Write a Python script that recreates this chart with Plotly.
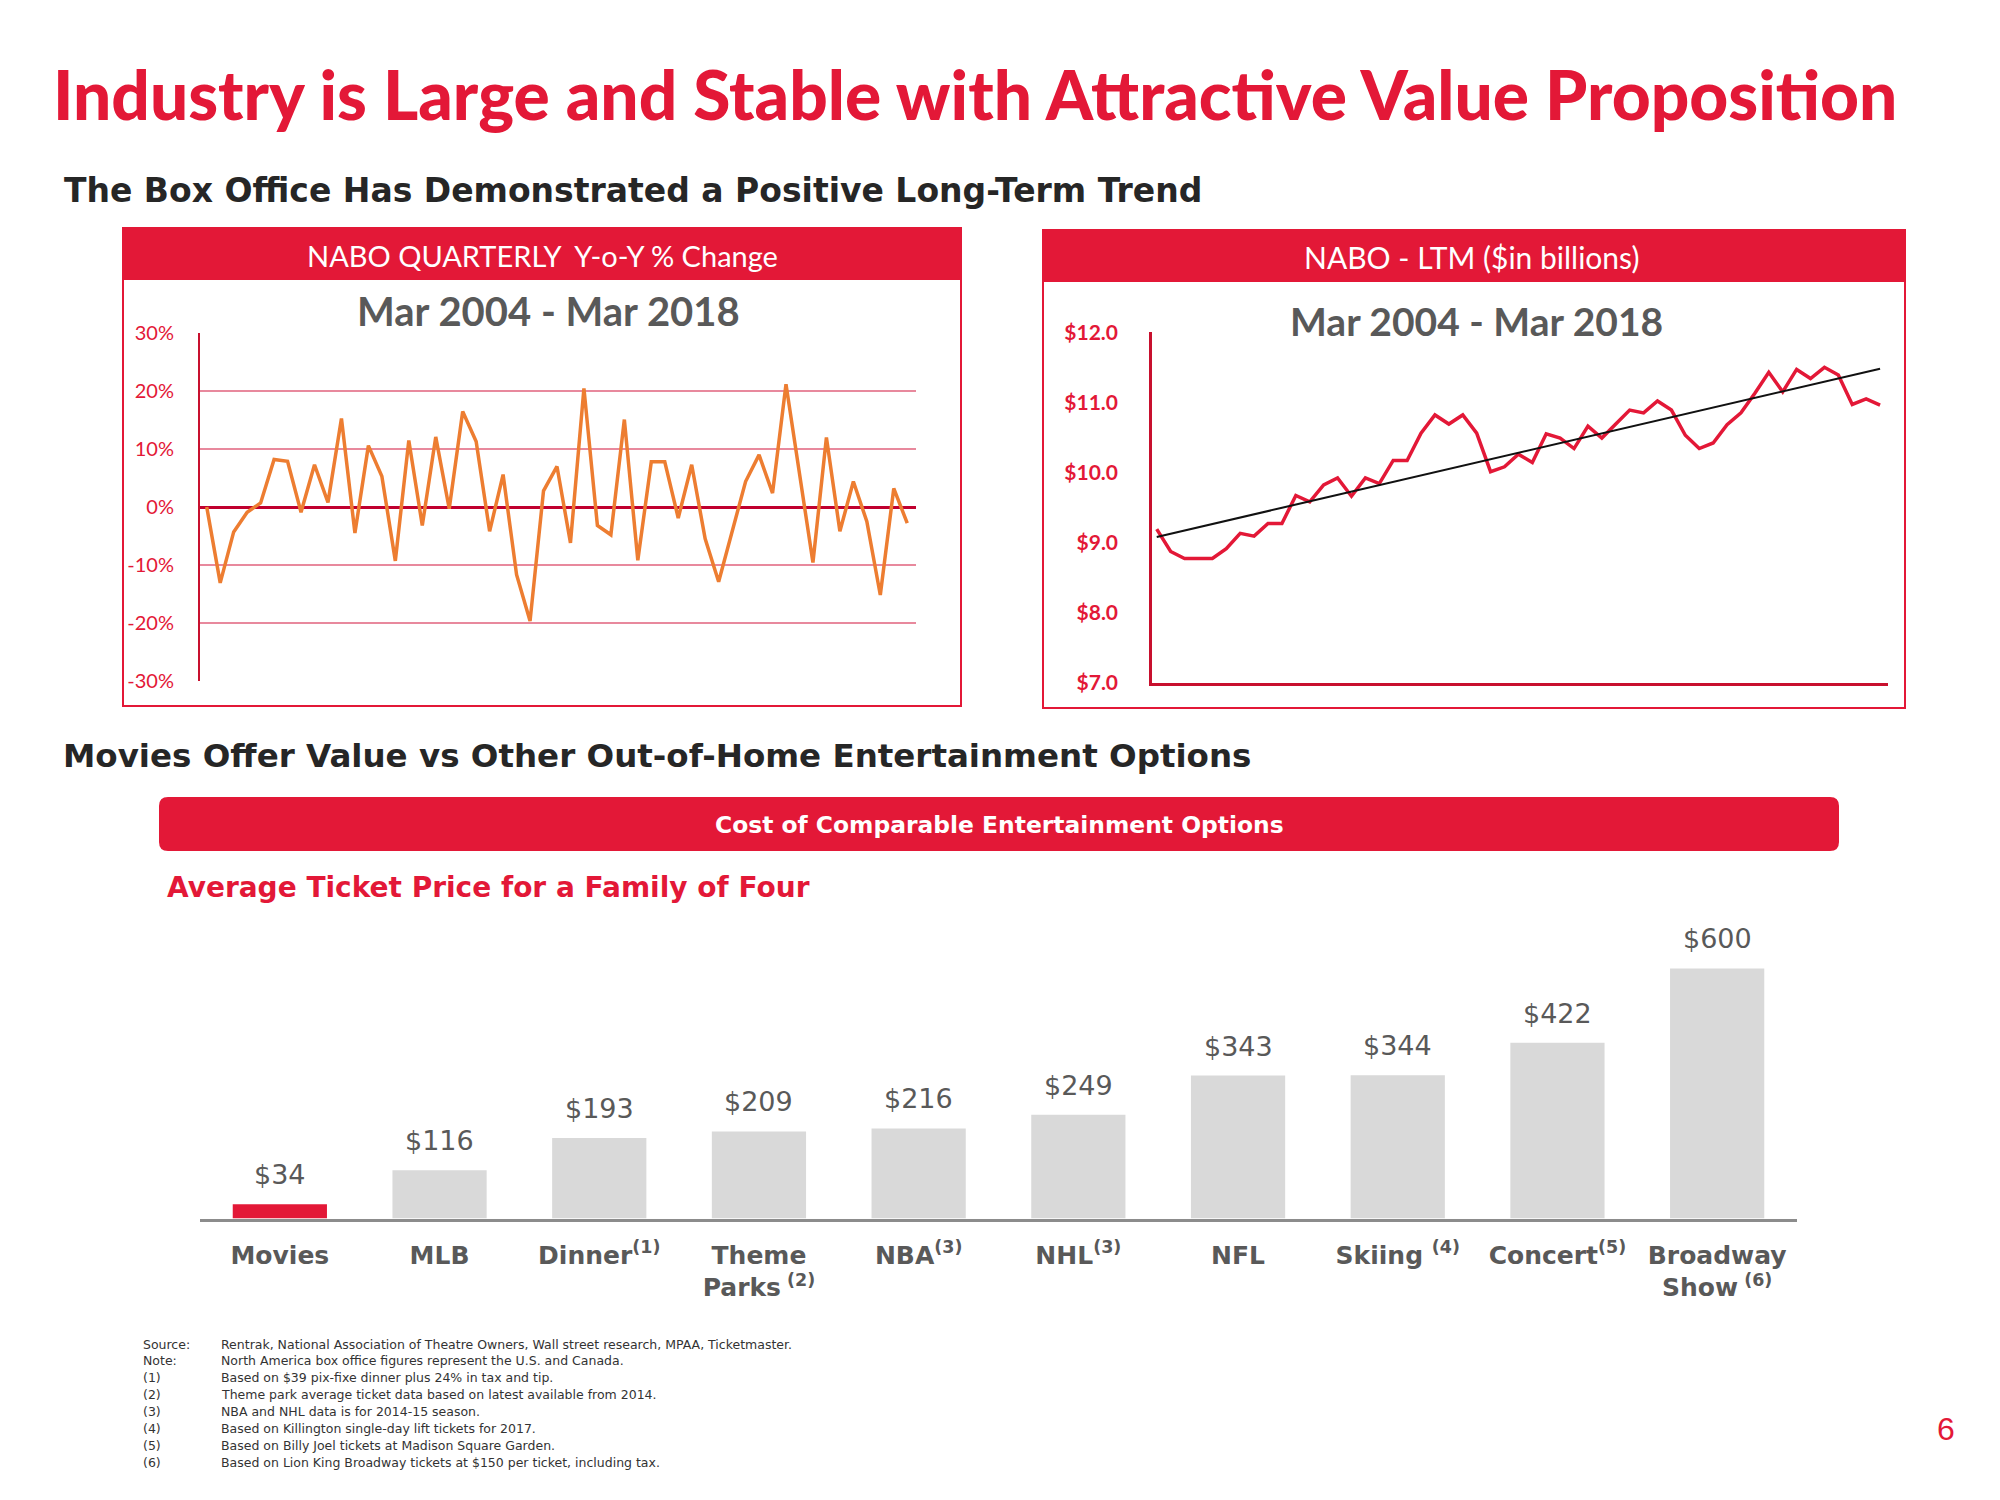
import numpy as np
import plotly.graph_objects as go

W, H = 2000, 1500
RED = "#E31837"
DARKRED = "#C8102E"
GRAY_TXT = "#595959"
BAR_GRAY = "#D9D9D9"
ORANGE = "#ED7D31"
WIDE = "DejaVu Sans, Verdana, sans-serif"
CAL = "Lato, Carlito, sans-serif"

# ---------------- data ----------------
yoy_pct = [0, -13.1, -4.3, -0.9, 0.7, 8.2, 7.9, -0.9, 7.3, 0.8, 15.3, -4.5, 10.6, 5.3,
           -9.3, 11.5, -3.2, 12.1, -0.3, 16.5, 11.3, -4.2, 5.6, -11.7, -19.7, 2.8, 7.0,
           -6.2, 20.5, -3.2, -4.8, 15.1, -9.2, 7.8, 7.8, -1.9, 7.3, -5.5, -12.9, -4.0,
           4.4, 9.0, 2.4, 21.2, 5.5, -9.6, 12.0, -4.2, 4.4, -2.5, -15.2, 3.2, -2.8]
ltm_billions = [9.19, 8.87, 8.77, 8.77, 8.77, 8.91, 9.13, 9.09, 9.27, 9.27, 9.67, 9.58,
                9.82, 9.92, 9.66, 9.92, 9.84, 10.17, 10.17, 10.56, 10.82, 10.69, 10.82,
                10.56, 10.01, 10.08, 10.26, 10.14, 10.55, 10.49, 10.34, 10.66, 10.49,
                10.69, 10.89, 10.85, 11.02, 10.89, 10.53, 10.34, 10.42, 10.68, 10.85,
                11.13, 11.43, 11.15, 11.47, 11.34, 11.50, 11.39, 10.97, 11.05, 10.96]
quarter_idx = list(range(len(yoy_pct)))

yoy_ticks = [30, 20, 10, 0, -10, -20, -30]
yoy_ticktext = ["30%", "20%", "10%", "0%", "-10%", "-20%", "-30%"]
ltm_ticks = [12, 11, 10, 9, 8, 7]
ltm_ticktext = ["$12.0", "$11.0", "$10.0", "$9.0", "$8.0", "$7.0"]

options = ["Movies", "MLB", "Dinner", "Theme Parks", "NBA", "NHL", "NFL", "Skiing",
           "Concert", "Broadway Show"]
option_labels = ["Movies", "MLB", "Dinner<sup>(1)</sup>", "Theme<br>Parks<sup> (2)</sup>",
                 "NBA<sup>(3)</sup>", "NHL<sup>(3)</sup>", "NFL", "Skiing <sup>(4)</sup>",
                 "Concert<sup>(5)</sup>", "Broadway<br>Show<sup> (6)</sup>"]
family_cost = [34, 116, 193, 209, 216, 249, 343, 344, 422, 600]

foot_keys = ["Source:", "Note:", "(1)", "(2)", "(3)", "(4)", "(5)", "(6)"]
foot_texts = [
    "Rentrak, National Association of Theatre Owners, Wall street research, MPAA, Ticketmaster.",
    "North America box office figures represent the U.S. and Canada.",
    "Based on $39 pix-fixe dinner plus 24% in tax and tip.",
    "Theme park average ticket data based on latest available from 2014.",
    "NBA and NHL data is for 2014-15 season.",
    "Based on Killington single-day lift tickets for 2017.",
    "Based on Billy Joel tickets at Madison Square Garden.",
    "Based on Lion King Broadway tickets at $150 per ticket, including tax.",
]


def fx(x):
    return x / W


def fy(y):
    return 1 - y / H


fig = go.Figure()

# ---------------- left chart: YoY % ----------------
fig.add_trace(go.Scatter(x=quarter_idx, y=yoy_pct, mode="lines",
                         line=dict(color=ORANGE, width=3.5), xaxis="x", yaxis="y",
                         hoverinfo="skip", showlegend=False))

# ---------------- right chart: LTM ----------------
slope, intercept = np.polyfit(quarter_idx, ltm_billions, 1)
trend = [intercept + slope * q for q in quarter_idx]
fig.add_trace(go.Scatter(x=quarter_idx, y=ltm_billions, mode="lines",
                         line=dict(color=RED, width=3.5), xaxis="x2", yaxis="y2",
                         hoverinfo="skip", showlegend=False))
fig.add_trace(go.Scatter(x=[quarter_idx[0], quarter_idx[-1]], y=[trend[0], trend[-1]],
                         mode="lines", line=dict(color="#111111", width=2),
                         xaxis="x2", yaxis="y2", hoverinfo="skip", showlegend=False))

# ---------------- bar chart ----------------
bar_x = list(range(len(options)))
bar_colors = [RED] + [BAR_GRAY] * (len(options) - 1)
fig.add_trace(go.Bar(x=bar_x, y=family_cost, marker=dict(color=bar_colors, line=dict(width=0)),
                     width=0.59, xaxis="x3", yaxis="y3", hoverinfo="skip", showlegend=False))

annotations = []
for i, v in enumerate(family_cost):
    annotations.append(dict(x=i, y=v, xref="x3", yref="y3", text=f"${v}", showarrow=False,
                            yanchor="bottom", xanchor="center", yshift=12,
                            font=dict(family=WIDE, size=27, color=GRAY_TXT)))

fig.update_layout(
    width=W, height=H, margin=dict(l=0, r=0, t=0, b=0, pad=0, autoexpand=False),
    paper_bgcolor="white", plot_bgcolor="rgba(0,0,0,0)",
    bargap=0.4,
    xaxis=dict(domain=[fx(200), fx(916)], range=[-0.5, 52.65], showgrid=False,
               zeroline=False, showticklabels=False, ticks="", showline=False,
               anchor="y", automargin=False),
    yaxis=dict(domain=[fy(681), fy(333)], range=[-30.05, 30.05], tickvals=yoy_ticks,
               ticktext=yoy_ticktext, tickfont=dict(family=CAL, size=20, color=RED),
               showgrid=True, gridcolor="#E8899D", gridwidth=1.5,
               zeroline=True, zerolinecolor="#C0002F", zerolinewidth=2.5,
               showline=True, linecolor=DARKRED, linewidth=2, ticks="",
               ticklabelstandoff=20, anchor="x", automargin=False),
    xaxis2=dict(domain=[fx(1152), fx(1888)], range=[-0.34, 52.57], showgrid=False,
                zeroline=False, showticklabels=False, ticks="", showline=True,
                linecolor=DARKRED, linewidth=2.5, anchor="y2", automargin=False),
    yaxis2=dict(domain=[fy(682.5), fy(332.3)], range=[7, 12], tickvals=ltm_ticks,
                ticktext=ltm_ticktext,
                tickfont=dict(family=CAL, size=21, color=RED, weight="bold"),
                showgrid=False, zeroline=False, showline=True, linecolor=DARKRED,
                linewidth=2.5, ticks="", ticklabelstandoff=27, anchor="x2",
                automargin=False),
    xaxis3=dict(domain=[fx(200), fx(1797)], range=[-0.5, 9.5], tickvals=bar_x,
                ticktext=option_labels, showgrid=False, zeroline=False,
                showline=True, linecolor="#8C8C8C", linewidth=3, ticks="",
                tickfont=dict(family=WIDE, size=25, color=GRAY_TXT, weight="bold"),
                ticklabelstandoff=12, anchor="y3", automargin=False),
    yaxis3=dict(domain=[fy(1218.5), fy(926.8)], range=[0, 700], visible=False,
                anchor="x3", automargin=False),
)

# ---------------- shapes ----------------
shapes = []
# left chart box and header
shapes.append(dict(type="rect", xref="paper", yref="paper", x0=fx(123), x1=fx(961),
                   y0=fy(706), y1=fy(228), line=dict(color=RED, width=2), fillcolor="rgba(0,0,0,0)"))
shapes.append(dict(type="rect", xref="paper", yref="paper", x0=fx(123), x1=fx(961),
                   y0=fy(280), y1=fy(228), line=dict(width=0), fillcolor=RED))
# right chart box and header
shapes.append(dict(type="rect", xref="paper", yref="paper", x0=fx(1043), x1=fx(1905),
                   y0=fy(708), y1=fy(230), line=dict(color=RED, width=2), fillcolor="rgba(0,0,0,0)"))
shapes.append(dict(type="rect", xref="paper", yref="paper", x0=fx(1043), x1=fx(1905),
                   y0=fy(282), y1=fy(230), line=dict(width=0), fillcolor=RED))


# rounded banner
def rounded(x0, y0, x1, y1, r):
    p = [
        f"M {fx(x0 + r)},{fy(y0)}",
        f"L {fx(x1 - r)},{fy(y0)}",
        f"Q {fx(x1)},{fy(y0)} {fx(x1)},{fy(y0 + r)}",
        f"L {fx(x1)},{fy(y1 - r)}",
        f"Q {fx(x1)},{fy(y1)} {fx(x1 - r)},{fy(y1)}",
        f"L {fx(x0 + r)},{fy(y1)}",
        f"Q {fx(x0)},{fy(y1)} {fx(x0)},{fy(y1 - r)}",
        f"L {fx(x0)},{fy(y0 + r)}",
        f"Q {fx(x0)},{fy(y0)} {fx(x0 + r)},{fy(y0)}",
        "Z",
    ]
    return " ".join(p)


shapes.append(dict(type="path", xref="paper", yref="paper", path=rounded(159, 797, 1839, 851, 9),
                   fillcolor=RED, line=dict(width=0)))


# ---------------- text ----------------
def txt(x, y, text, size, color, family, xanchor="left", weight="normal"):
    annotations.append(dict(x=fx(x), y=fy(y), xref="paper", yref="paper", text=text,
                            showarrow=False, xanchor=xanchor, yanchor="middle",
                            font=dict(family=family, size=size, color=color, weight=weight)))


txt(51, 93, "Industry is Large and Stable with Attractive Value Proposition", 67.6, RED,
    "Lato, sans-serif", weight=900)
txt(62, 191, "The Box Office Has Demonstrated a Positive Long-Term Trend", 33, "#262626",
    WIDE, weight="bold")
txt(542, 256, "NABO QUARTERLY  Y-o-Y % Change", 29, "white", CAL, xanchor="center")
txt(1471, 257, "NABO - LTM ($in billions)", 30, "white", CAL, xanchor="center")
txt(548, 311, "Mar 2004 - Mar 2018", 40, GRAY_TXT, CAL, xanchor="center", weight="bold")
txt(1476, 321, "Mar 2004 - Mar 2018", 39, GRAY_TXT, CAL, xanchor="center", weight="bold")
txt(61, 756, "Movies Offer Value vs Other Out-of-Home Entertainment Options", 32.5, "#262626",
    WIDE, weight="bold")
txt(999, 825, "Cost of Comparable Entertainment Options", 23.4, "white", WIDE,
    xanchor="center", weight="bold")
txt(165, 887, "Average Ticket Price for a Family of Four", 28, RED, WIDE, weight="bold")

for k, (key, t) in enumerate(zip(foot_keys, foot_texts)):
    y = 1344 + k * 16.9
    txt(141, y, key, 12.5, "#333333", WIDE)
    txt(219, y, t, 12.5, "#333333", WIDE)

txt(1946, 1429, "6", 32, RED, "Liberation Sans, Arial, sans-serif", xanchor="center")

fig.update_layout(shapes=shapes, annotations=annotations)
fig.write_html("out.html", config={"displayModeBar": False},
               post_script="document.body.style.margin='0';")
